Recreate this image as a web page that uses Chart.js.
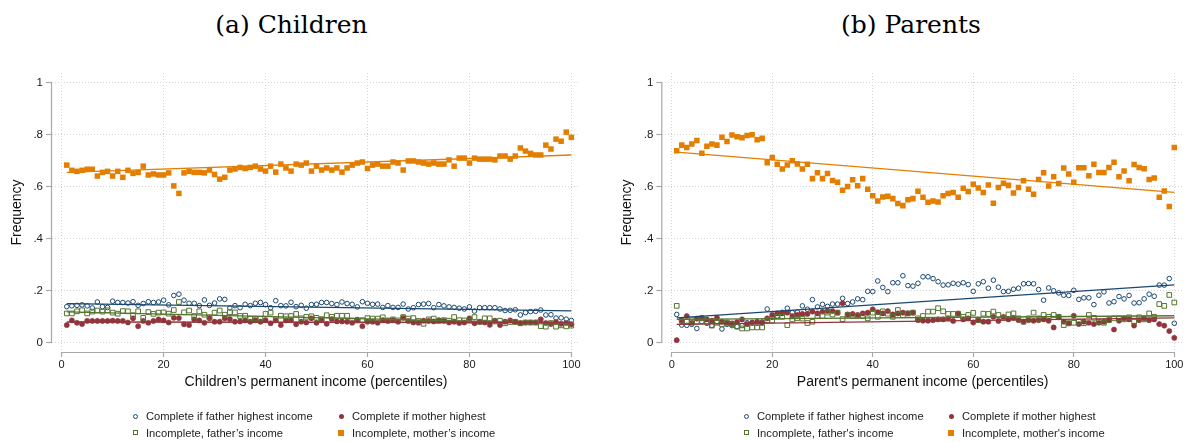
<!DOCTYPE html>
<html>
<head>
<meta charset="utf-8">
<title>Frequency by permanent income</title>
<script src="https://cdn.jsdelivr.net/npm/chart.js@4.4.1/dist/chart.umd.min.js"></script>
<style>
  html, body { margin: 0; padding: 0; background: #fff; }
  #page { position: relative; width: 1198px; height: 442px; overflow: hidden; font-family: "Liberation Sans", Arial, sans-serif; }
  .panel { position: absolute; top: 0; width: 599px; height: 442px; }
  .panel canvas { position: absolute; left: 0; top: 0; }
  .caption { position: absolute; top: 12px; font-family: "DejaVu Serif", serif; font-size: 25px; line-height: 25px; color: #000; white-space: nowrap; transform: translateX(-50%); }
  .leg { position: absolute; font-size: 11.2px; line-height: 14px; color: #222; white-space: nowrap; }
  .mk { position: absolute; box-sizing: border-box; }
</style>
</head>
<body>
<div id="page">
  <div class="caption" style="left:291.5px">(a) Children</div>
  <div class="caption" style="left:911px">(b) Parents</div>
  <div class="panel" style="left:0"><canvas id="childrenChart" width="599" height="442"></canvas></div>
  <div class="panel" style="left:599px"><canvas id="parentsChart" width="599" height="442"></canvas></div>
</div>

<script>
// percentiles of permanent income (x categories)
const percentiles = Array.from({ length: 100 }, (_, i) => i + 1);
const xTicks = [0, 20, 40, 60, 80, 100];
const yTicks = [0, 0.2, 0.4, 0.6, 0.8, 1];
const yTickLabels = ["0", ".2", ".4", ".6", ".8", "1"];

// legend names (row by row, as in the figure)
const namesChildren = ["Complete if father highest income", "Complete if mother highest", "Incomplete, father\u2019s income", "Incomplete, mother\u2019s income"];
const namesParents = ["Complete if father highest income", "Complete if mother highest", "Incomplete, father's income", "Incomplete, mother's income"];

// (a) Children
const childFatherComplete = [
  .138, .141, .143, .145, .141, .133, .156, .138, .135, .159,
  .154, .154, .152, .157, .143, .150, .157, .154, .156, .163,
  .145, .181, .186, .163, .151, .151, .142, .164, .143, .152,
  .168, .166, .133, .142, .134, .147, .142, .151, .154, .146,
  .134, .161, .142, .141, .155, .138, .143, .132, .146, .147,
  .154, .154, .150, .146, .156, .150, .147, .137, .157, .151,
  .147, .148, .135, .142, .135, .135, .148, .129, .134, .146,
  .148, .150, .134, .146, .141, .137, .135, .132, .129, .137,
  .121, .134, .134, .134, .134, .129, .123, .124, .126, .106,
  .115, .119, .120, .125, .106, .107, .094, .095, .090, .085
];
const childMotherComplete = [
  .067, .085, .076, .071, .083, .083, .083, .083, .083, .084,
  .083, .083, .077, .093, .063, .083, .076, .083, .089, .085,
  .077, .095, .094, .070, .067, .089, .085, .076, .093, .080,
  .080, .093, .090, .080, .081, .085, .080, .086, .080, .086,
  .074, .085, .067, .085, .086, .070, .080, .077, .093, .076,
  .086, .072, .090, .081, .081, .080, .076, .088, .063, .080,
  .080, .076, .086, .083, .086, .080, .095, .083, .077, .076,
  .084, .083, .081, .086, .083, .077, .080, .075, .077, .093,
  .074, .080, .077, .068, .084, .067, .080, .085, .080, .075,
  .077, .077, .077, .089, .075, .071, .079, .072, .075, .070
];
const childFatherIncomplete = [
  .112, .112, .120, .124, .112, .119, .123, .119, .124, .115,
  .111, .121, .120, .105, .120, .095, .117, .110, .115, .116,
  .111, .125, .156, .116, .123, .102, .120, .107, .097, .115,
  .123, .107, .117, .116, .102, .103, .092, .092, .092, .110,
  .115, .090, .103, .101, .102, .110, .093, .099, .101, .095,
  .090, .105, .099, .103, .103, .103, .085, .085, .086, .094,
  .092, .092, .097, .085, .089, .085, .098, .092, .094, .083,
  .072, .089, .092, .083, .086, .084, .098, .086, .085, .084,
  .098, .079, .093, .093, .081, .084, .074, .079, .079, .074,
  .077, .077, .077, .063, .061, .075, .061, .066, .062, .065
];
const childMotherIncomplete = [
  .683, .663, .659, .663, .667, .667, .641, .655, .659, .641,
  .659, .636, .663, .651, .655, .679, .645, .649, .645, .645,
  .653, .603, .574, .653, .659, .655, .655, .653, .664, .647,
  .629, .636, .664, .668, .674, .670, .674, .679, .668, .660,
  .679, .656, .687, .672, .660, .687, .683, .691, .660, .679,
  .664, .672, .664, .672, .656, .672, .683, .691, .695, .670,
  .683, .687, .679, .679, .695, .691, .664, .699, .699, .695,
  .691, .687, .691, .687, .687, .703, .679, .710, .710, .691,
  .710, .706, .706, .706, .703, .718, .718, .706, .718, .749,
  .737, .728, .722, .722, .760, .745, .783, .775, .810, .790
];

// (b) Parents
const parentFatherComplete = [
  .108, .067, .066, .070, .054, .080, .074, .066, .080, .052,
  .070, .065, .061, .065, .076, .077, .074, .079, .129, .097,
  .102, .116, .132, .115, .117, .141, .128, .165, .137, .147,
  .139, .148, .148, .170, .150, .156, .168, .165, .197, .196,
  .237, .212, .196, .230, .230, .257, .219, .217, .228, .253,
  .253, .246, .234, .221, .222, .228, .225, .230, .223, .197,
  .226, .234, .209, .240, .213, .196, .197, .205, .209, .226,
  .227, .226, .204, .163, .210, .199, .191, .182, .181, .201,
  .166, .172, .172, .146, .182, .195, .152, .157, .177, .168,
  .181, .152, .153, .168, .186, .178, .221, .221, .246, .074
];
const parentMotherComplete = [
  .009, .084, .102, .076, .092, .095, .089, .084, .095, .080,
  .076, .074, .079, .089, .071, .076, .080, .076, .093, .106,
  .112, .112, .115, .102, .106, .110, .110, .119, .112, .119,
  .121, .121, .115, .151, .108, .110, .106, .112, .115, .128,
  .117, .112, .121, .108, .112, .115, .112, .115, .086, .084,
  .084, .086, .089, .089, .093, .083, .112, .089, .093, .077,
  .086, .080, .080, .099, .083, .099, .089, .095, .086, .080,
  .086, .084, .086, .089, .084, .058, .097, .080, .074, .103,
  .071, .080, .076, .071, .076, .080, .086, .050, .084, .093,
  .089, .065, .086, .093, .086, .089, .071, .065, .044, .018
];
const parentFatherIncomplete = [
  .141, .084, .080, .086, .080, .093, .080, .065, .076, .070,
  .077, .071, .061, .054, .054, .058, .058, .058, .086, .084,
  .099, .099, .067, .089, .093, .092, .075, .080, .102, .102,
  .115, .108, .115, .090, .106, .102, .103, .102, .093, .115,
  .099, .120, .111, .099, .125, .105, .112, .115, .093, .102,
  .119, .119, .132, .120, .110, .110, .110, .099, .106, .114,
  .086, .111, .110, .119, .106, .095, .108, .112, .093, .080,
  .093, .115, .093, .106, .099, .106, .099, .067, .074, .076,
  .080, .074, .106, .095, .080, .076, .086, .093, .093, .089,
  .097, .080, .097, .089, .112, .099, .148, .141, .183, .154
];
const parentMotherIncomplete = [
  .738, .760, .751, .764, .778, .729, .756, .764, .760, .790,
  .774, .799, .792, .788, .797, .800, .781, .786, .692, .712,
  .686, .668, .683, .700, .687, .668, .686, .631, .654, .631,
  .651, .624, .617, .586, .601, .627, .604, .631, .590, .565,
  .545, .560, .563, .554, .535, .527, .550, .554, .582, .559,
  .540, .545, .541, .565, .574, .578, .559, .594, .581, .609,
  .595, .578, .606, .536, .597, .613, .605, .576, .597, .623,
  .590, .571, .628, .654, .603, .638, .612, .672, .649, .617,
  .673, .673, .642, .686, .655, .655, .674, .694, .638, .660,
  .623, .685, .674, .669, .628, .633, .559, .583, .524, .751
];

// linear fit end points (at percentile 1 and 100)
const fitX = [1, 100];
const childFits = [[.150, .122], [.079, .077], [.118, .073], [.655, .722]];
const parentFits = [[.095, .222], [.070, .095], [.089, .103], [.733, .578]];

// Stata s2color: navy, maroon, forest green, dark orange
const colors = ["#1a476f", "#90353b", "#55752f", "#e37e00"];
const markerStyles = [
  { pointStyle: "circle", pointRadius: 2.3, pointBorderWidth: 1, pointBackgroundColor: "rgba(0,0,0,0)" },
  { pointStyle: "circle", pointRadius: 2.6, pointBorderWidth: 0.5, pointBackgroundColor: colors[1] },
  { pointStyle: "rect", pointRadius: 3.3, pointBorderWidth: 1, pointBackgroundColor: "rgba(0,0,0,0)" },
  { pointStyle: "rect", pointRadius: 3.9, pointBorderWidth: 0, pointBackgroundColor: colors[3] },
];

const fontFamily = '"Liberation Sans", Arial, Helvetica, sans-serif';
Chart.defaults.font.family = fontFamily;

// axis lines only over the tick range, like Stata draws them
const axisLines = {
  id: "axisLines",
  beforeDatasetsDraw(chart) {
    const { ctx, chartArea, scales } = chart;
    const x = scales.x, y = scales.y;
    ctx.save();
    ctx.strokeStyle = "#a9a9a9";
    ctx.lineWidth = 1.2;
    ctx.beginPath();
    ctx.moveTo(x.getPixelForValue(xTicks[0]), chartArea.bottom + 0.5);
    ctx.lineTo(x.getPixelForValue(xTicks[xTicks.length - 1]), chartArea.bottom + 0.5);
    ctx.moveTo(chartArea.left - 0.5, y.getPixelForValue(yTicks[0]));
    ctx.lineTo(chartArea.left - 0.5, y.getPixelForValue(yTicks[yTicks.length - 1]));
    ctx.stroke();
    ctx.restore();
  }
};

function buildPanel(canvasId, series, fits, names, opts) {
  const datasets = [];

  // fitted lines on top
  fits.forEach((f, i) => {
    datasets.push({
      label: "fit " + names[i],
      data: fitX.map((xv, k) => ({ x: xv, y: f[k] })),
      showLine: true,
      borderColor: colors[i],
      borderWidth: 1.3,
      pointRadius: 0,
      order: 0,
    });
  });

  series.forEach((vals, i) => {
    datasets.push(Object.assign({
      label: names[i],
      data: percentiles.map((p, k) => ({ x: p, y: vals[k] })),
      pointBorderColor: colors[i],
      showLine: false,
      order: 4 - i,
    }, markerStyles[i]));
  });

  const gridOpts = {
    color: "#d4d4d4",
    lineWidth: 1,
    drawTicks: true,
    tickLength: 6,
    tickColor: "#a9a9a9",
    tickWidth: 1.2,
    tickBorderDash: [],
  };

  return new Chart(document.getElementById(canvasId), {
    type: "scatter",
    data: { datasets },
    plugins: [axisLines],
    options: {
      responsive: false,
      animation: false,
      events: [],
      layout: { padding: { top: 73, left: opts.padLeft, right: opts.padRight, bottom: 51 } },
      plugins: { legend: { display: false }, tooltip: { enabled: false }, title: { display: false } },
      scales: {
        x: {
          type: "linear",
          min: opts.xMin,
          max: opts.xMax,
          afterBuildTicks: (s) => { s.ticks = xTicks.map((v) => ({ value: v })); },
          afterFit: (s) => { s.height = 39; },
          ticks: { autoSkip: false, maxRotation: 0, padding: 1, color: "#1a1a1a", font: { size: 11 }, callback: (v) => String(v) },
          grid: Object.assign({}, gridOpts, { tickLength: 5 }),
          border: { display: false, dash: [1, 2] },
          title: { display: true, text: opts.xTitle, color: "#111", font: { size: 14 }, padding: { top: 0, bottom: 0 } },
        },
        y: {
          type: "linear",
          min: -0.0366,
          max: 1.0377,
          afterBuildTicks: (s) => { s.ticks = yTicks.map((v) => ({ value: v })); },
          afterFit: (s) => { s.width = opts.yWidth; },
          ticks: { padding: 3, color: "#1a1a1a", font: { size: 11.5 }, callback: (v, i) => yTickLabels[i] },
          grid: gridOpts,
          border: { display: false, dash: [1, 2] },
          title: { display: true, text: "Frequency", color: "#111", font: { size: 14 }, padding: { top: 8.6, bottom: 0 } },
        },
      },
    },
  });
}

// legend: two columns, two rows, markers only
function buildLegend(names, colX, offsetX) {
  const page = document.getElementById("page");
  const rowsY = [416, 432.5];
  const sizes = [5, 5, 5, 6];
  names.forEach((name, i) => {
    const item = document.createElement("div");
    item.className = "leg";
    item.style.left = (offsetX + colX[i % 2]) + "px";
    item.style.top = (rowsY[Math.floor(i / 2)] - 7) + "px";
    item.textContent = name;

    const mk = document.createElement("span");
    mk.className = "mk";
    const s = sizes[i];
    mk.style.width = s + "px";
    mk.style.height = s + "px";
    mk.style.left = (-11 - s / 2) + "px";
    mk.style.top = (7 - s / 2) + "px";
    if (i === 0 || i === 2) mk.style.border = "1px solid " + colors[i];
    else mk.style.background = colors[i];
    if (i < 2) mk.style.borderRadius = "50%";
    item.appendChild(mk);
    page.appendChild(item);
  });
}

buildPanel("childrenChart",
  [childFatherComplete, childMotherComplete, childFatherIncomplete, childMotherIncomplete],
  childFits, namesChildren,
  { xMin: -1.9, xMax: 101.7, padLeft: 0, padRight: 19, yWidth: 52, xTitle: "Children\u2019s permanent income (percentiles)" });

buildPanel("parentsChart",
  [parentFatherComplete, parentMotherComplete, parentFatherIncomplete, parentMotherIncomplete],
  parentFits, namesParents,
  { xMin: -1.87, xMax: 101.73, padLeft: 11, padRight: 15, yWidth: 52.3, xTitle: "Parent's permanent income (percentiles)" });

buildLegend(namesChildren, [146, 352], 0);
buildLegend(namesParents, [757, 962], 0);
</script>
</body>
</html>
